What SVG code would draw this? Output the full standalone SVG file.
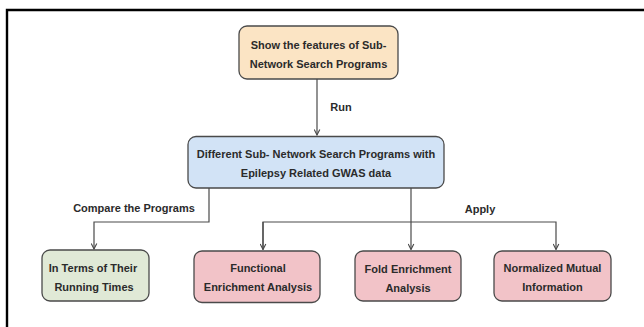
<svg xmlns="http://www.w3.org/2000/svg" width="644" height="327" viewBox="0 0 644 327">
  <style>
    .box { stroke: #4a4a4a; stroke-width: 1.3; }
    .peach { fill: #fbe4c4; }
    .blue { fill: #d2e3f6; }
    .green { fill: #e0e9d6; }
    .pink { fill: #f2c3c8; }
    .lbl { font-family: "Liberation Sans", Arial, sans-serif; font-weight: bold; font-size: 11px; fill: #2b2b2b; text-anchor: middle; dominant-baseline: central; }
    .edge { fill: none; stroke: #4a4a4a; stroke-width: 1.2; }
  </style>
  <defs>
    <marker id="arrow" viewBox="0 0 10 10" refX="9" refY="5" markerWidth="7" markerHeight="7" orient="auto" markerUnits="userSpaceOnUse">
      <path d="M1,1 L9,5 L1,9" fill="none" stroke="#4a4a4a" stroke-width="1.6"/>
    </marker>
  </defs>
  <rect width="644" height="327" fill="#ffffff"/>
  <!-- frame -->
  <path d="M7,327 V10 H644" fill="none" stroke="#000" stroke-width="2.4"/>

  <g id="connectors">
    <path class="edge" d="M317,79 V135" marker-end="url(#arrow)"/>
    <text class="lbl" x="341" y="107">Run</text>
    <path class="edge" d="M209,188 V222 H94 V249" marker-end="url(#arrow)"/>
    <text class="lbl" x="134" y="208">Compare the Programs</text>
    <path class="edge" d="M411,188 V249.5" marker-end="url(#arrow)"/>
    <path class="edge" d="M263,249.5 V222 H556 V249.5" marker-end="url(#arrow)"/>
    <path class="edge" d="M263,222 V249.5" marker-end="url(#arrow)"/>
    <text class="lbl" x="480" y="209">Apply</text>
  </g>

  <g id="features">
    <rect class="box peach" x="239" y="26" width="159" height="53" rx="8"/>
    <text class="lbl" x="318.5" y="44.5">Show the features of Sub-</text>
    <text class="lbl" x="318.5" y="63.5">Network Search Programs</text>
  </g>
  <g id="programs">
    <rect class="box blue" x="188" y="136.5" width="256" height="51.5" rx="8"/>
    <text class="lbl" x="316" y="153.5">Different Sub- Network Search Programs with</text>
    <text class="lbl" x="316" y="172.5">Epilepsy Related GWAS data</text>
  </g>
  <g id="running-times">
    <rect class="box green" x="42" y="250" width="107" height="51" rx="8"/>
    <text class="lbl" x="93" y="267.5">In Terms of Their</text>
    <text class="lbl" x="94" y="286.5">Running Times</text>
  </g>
  <g id="functional">
    <rect class="box pink" x="194" y="251" width="126" height="51.5" rx="8"/>
    <text class="lbl" x="258" y="268">Functional</text>
    <text class="lbl" x="258" y="287">Enrichment Analysis</text>
  </g>
  <g id="fold">
    <rect class="box pink" x="355" y="251" width="106" height="50" rx="8"/>
    <text class="lbl" x="408" y="269">Fold Enrichment</text>
    <text class="lbl" x="408" y="288">Analysis</text>
  </g>
  <g id="nmi">
    <rect class="box pink" x="494" y="251" width="117" height="50" rx="8"/>
    <text class="lbl" x="552.5" y="268">Normalized Mutual</text>
    <text class="lbl" x="552.5" y="287">Information</text>
  </g>
</svg>
